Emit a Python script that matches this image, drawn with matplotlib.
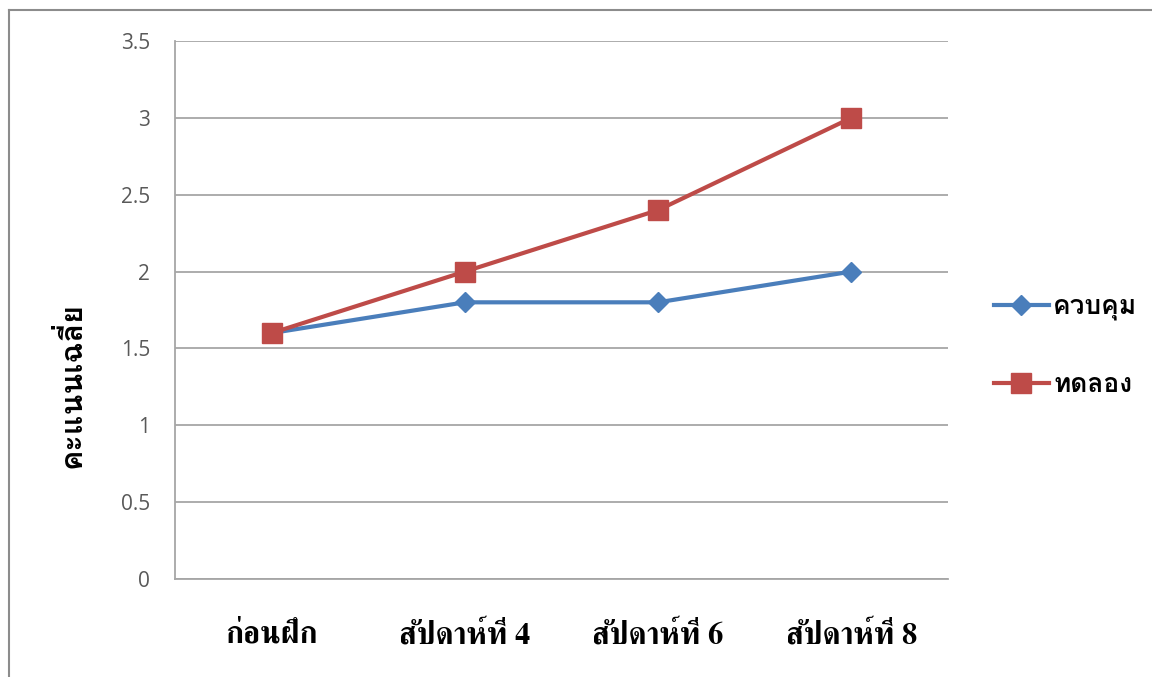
import matplotlib
matplotlib.use("Agg")
import matplotlib.pyplot as plt
from matplotlib import font_manager
from matplotlib.ft2font import FT2Font
from matplotlib.lines import Line2D

# Data
categories = ["ก่อนฝึก", "สัปดาห์ที่ 4", "สัปดาห์ที่ 6", "สัปดาห์ที่ 8"]
control = [1.6, 1.8, 1.8, 2.0]
experiment = [1.6, 2.0, 2.4, 3.0]
series_names = ["ควบคุม", "ทดลอง"]
y_ticks = [0, 0.5, 1, 1.5, 2, 2.5, 3, 3.5]
y_tick_labels = ["0", "0.5", "1", "1.5", "2", "2.5", "3", "3.5"]
y_label = "คะแนนเฉลี่ย"


def thai_fonts():
    found = []
    for path in font_manager.findSystemFonts():
        try:
            f = FT2Font(path)
            if 0x0E01 in f.get_charmap():
                found.append((f.family_name, f.style_name, path))
        except Exception:
            pass
    return found


fonts = thai_fonts()


def pick(prefs):
    for p in prefs:
        for fam, style, path in fonts:
            if p.lower() in fam.lower() and "bold" in style.lower():
                return fam
    for p in prefs:
        for fam, style, path in fonts:
            if p.lower() in fam.lower():
                return fam
    return fonts[0][0] if fonts else "DejaVu Sans"


serif_thai = pick(["Norasi", "Noto Serif Thai", "Kinnari", "Serif", "Tlwg"])
sans_thai = pick(["Noto Sans Thai", "Loma", "Garuda", "Tlwg", "Sans"])

W, H = 1152, 677
fig = plt.figure(figsize=(W / 100, H / 100), dpi=100)
fig.patch.set_facecolor("white")
ax = fig.add_axes([175 / W, 1 - 579 / H, (948 - 175) / W, (579 - 41) / H])

x = list(range(len(categories)))
blue = "#4A7EBB"
red = "#BE4B48"
ax.plot(x, control, color=blue, lw=3, marker="D", ms=10, zorder=3)
ax.plot(x, experiment, color=red, lw=3, marker="s", ms=14.5, zorder=4)

ax.set_xlim(-0.5, len(categories) - 0.5)
ax.set_ylim(0, 3.5)
ax.set_yticks(y_ticks)
ax.set_yticklabels(y_tick_labels, fontsize=15, color="#595959", family=["Open Sans", "DejaVu Sans"])
ax.set_xticks(x)
ax.set_xticklabels(categories, fontsize=22, fontweight="bold", family=[serif_thai, "DejaVu Serif"])
ax.tick_params(axis="both", length=0)
ax.tick_params(axis="y", pad=18)
ax.tick_params(axis="x", pad=30)
ax.grid(axis="y", color="#A6A6A6", lw=1.3)
ax.set_axisbelow(True)
for s in ["top", "right"]:
    ax.spines[s].set_visible(False)
for s in ["left", "bottom"]:
    ax.spines[s].set_color("#A6A6A6")
    ax.spines[s].set_linewidth(1.3)

fig.text(71 / W, 1 - 385 / H, y_label, rotation=90, ha="center", va="center",
         fontsize=22, fontweight="bold", family=[sans_thai, "DejaVu Sans"])

handles = [
    Line2D([], [], color=blue, lw=3, marker="D", ms=10),
    Line2D([], [], color=red, lw=3, marker="s", ms=14.5),
]
fig.legend(handles, series_names, loc="center left", bbox_to_anchor=(970 / W, 1 - 346 / H),
           frameon=False, handlelength=2.1, handletextpad=0.15, labelspacing=2.0,
           prop={"family": [sans_thai, "DejaVu Sans"], "weight": "bold", "size": 19})

# outer chart frame
fig.add_artist(Line2D([9 / W, 9 / W], [0, 1 - 10 / H], transform=fig.transFigure, color="#8C8C8C", lw=1.5))
fig.add_artist(Line2D([9 / W, 1], [1 - 10 / H, 1 - 10 / H], transform=fig.transFigure, color="#8C8C8C", lw=1.5))

fig.savefig("out.png", dpi=100, facecolor="white")
